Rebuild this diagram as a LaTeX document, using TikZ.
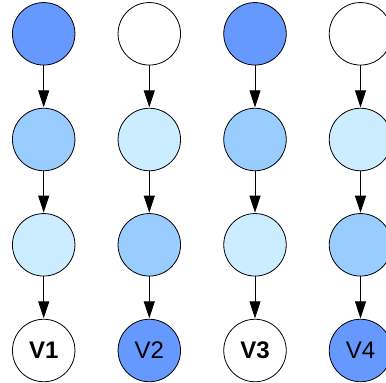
\documentclass[tikz,border=0pt]{standalone}
\usepackage{fontspec}
\setmainfont{Liberation Sans}
\usetikzlibrary{arrows.meta}
\definecolor{cdark}{HTML}{6699FF}
\definecolor{cmid}{HTML}{99CCFF}
\definecolor{clight}{HTML}{CCECFF}
\tikzset{
  vnode/.style={circle, draw=black, line width=0.8pt, minimum size=62.5pt, inner sep=0pt, font=\fontsize{24}{24}\selectfont},
  conn/.style={line width=0.9pt, -{Triangle[length=17pt,width=11pt]}, shorten >=0.5pt}
}
\begin{document}
\begin{tikzpicture}[x=1pt,y=-1pt]
\useasboundingbox (0,0) rectangle (386,383);
% column x positions and row y positions
\def\ca{43.7}\def\cb{149.3}\def\cc{255}\def\cd{360.5}
\def\ra{33.8}\def\rb{139.5}\def\rc{244.8}\def\rd{350.5}
% column 1
\node[vnode, fill=cdark]  (a1) at (\ca,\ra) {};
\node[vnode, fill=cmid]   (a2) at (\ca,\rb) {};
\node[vnode, fill=clight] (a3) at (\ca,\rc) {};
\node[vnode, fill=white]  (a4) at (\ca,\rd) {\textbf{V1}};
% column 2
\node[vnode, fill=white]  (b1) at (\cb,\ra) {};
\node[vnode, fill=clight] (b2) at (\cb,\rb) {};
\node[vnode, fill=cmid]   (b3) at (\cb,\rc) {};
\node[vnode, fill=cdark]  (b4) at (\cb,\rd) {V2};
% column 3
\node[vnode, fill=cdark]  (c1) at (\cc,\ra) {};
\node[vnode, fill=cmid]   (c2) at (\cc,\rb) {};
\node[vnode, fill=clight] (c3) at (\cc,\rc) {};
\node[vnode, fill=white]  (c4) at (\cc,\rd) {\textbf{V3}};
% column 4
\node[vnode, fill=white]  (d1) at (\cd,\ra) {};
\node[vnode, fill=clight] (d2) at (\cd,\rb) {};
\node[vnode, fill=cmid]   (d3) at (\cd,\rc) {};
\node[vnode, fill=cdark]  (d4) at (\cd,\rd) {V4};
\foreach \col in {a,b,c,d}{
  \draw[conn] (\col1) -- (\col2);
  \draw[conn] (\col2) -- (\col3);
  \draw[conn] (\col3) -- (\col4);
}
\end{tikzpicture}
\end{document}
